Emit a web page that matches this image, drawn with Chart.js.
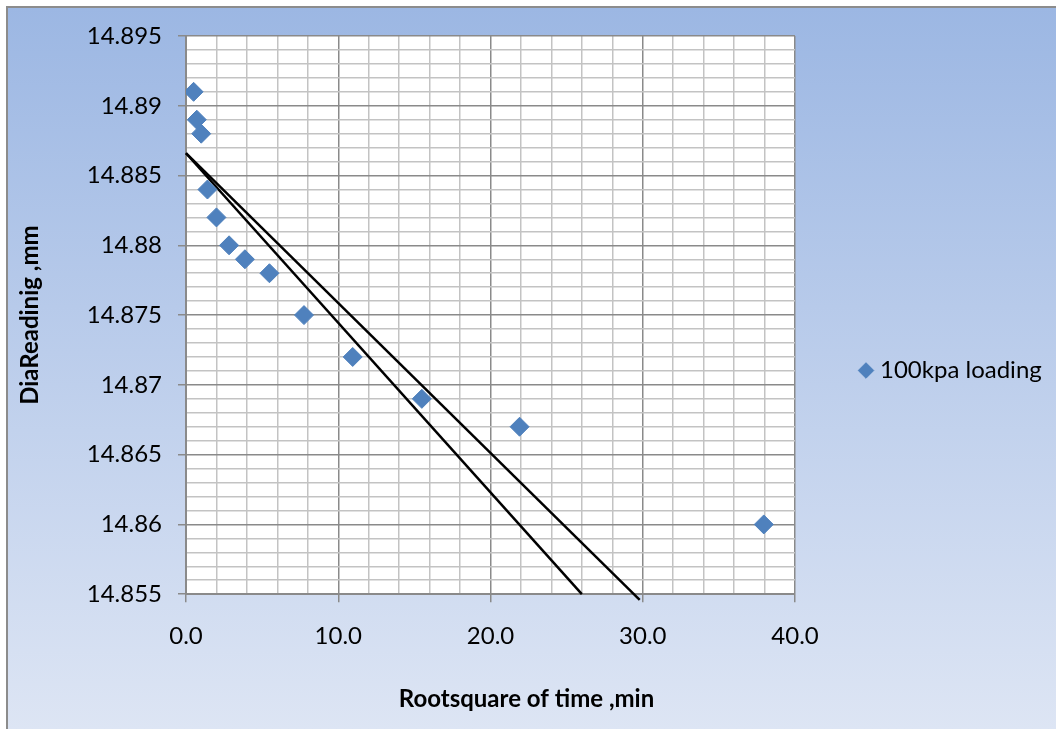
<!DOCTYPE html>
<html>
<head>
<meta charset="utf-8">
<script src="https://cdn.jsdelivr.net/npm/chart.js@4.4.0/dist/chart.umd.min.js"></script>
<style>
  html, body { margin: 0; padding: 0; background: #fff; }
  #wrap { width: 1056px; height: 729px; }
</style>
</head>
<body>
<div id="wrap"><canvas id="consolChart" width="1056" height="729"></canvas></div>
<script>
// root of time (min) vs dial reading (mm)
const rootTime = [0.5, 0.71, 1.0, 1.41, 2.0, 2.83, 3.87, 5.48, 7.75, 10.95, 15.49, 21.91, 37.95]
const dialReading = [14.891, 14.889, 14.888, 14.884, 14.882, 14.880, 14.879, 14.878, 14.875, 14.872, 14.869, 14.867, 14.860]

// the two hand drawn straight lines
const line1X = [0, 26.0]
const line1Y = [14.8866, 14.855]
const line2X = [0, 29.8]
const line2Y = [14.8866, 14.8546]

const xTickLabels = ['0.0', '10.0', '20.0', '30.0', '40.0']
const yTickLabels = ['14.855', '14.86', '14.865', '14.87', '14.875', '14.88', '14.885', '14.89', '14.895']

const FONT = 'Lato'
const majorGrid = '#8a8a8a'
const minorGrid = '#c3c3c3'

const toPoints = (xs, ys) => xs.map((x, i) => ({x, y: ys[i]}))

const isMajorX = v => Math.round(v) % 10 === 0
const isMajorY = v => Math.round(v * 1000) % 5 === 0

const bgPlugin = {
    id: 'bg',
    afterLayout(chart) {
        // nudge the legend up a bit, like the excel one
        chart.legend.top -= 12
        chart.legend.bottom -= 12
    },
    beforeDraw(chart) {
        const {ctx, width, height, chartArea} = chart
        ctx.save()
        ctx.fillStyle = '#fff'
        ctx.fillRect(0, 0, width, height)
        const g = ctx.createLinearGradient(0, 8, 0, height)
        g.addColorStop(0, '#9cb7e3')
        g.addColorStop(1, '#dde5f4')
        ctx.fillStyle = g
        ctx.fillRect(8, 8, width - 8, height - 8)
        ctx.strokeStyle = '#8c8c8c'
        ctx.lineWidth = 2
        ctx.beginPath()
        ctx.moveTo(7, height)
        ctx.lineTo(7, 7)
        ctx.lineTo(width, 7)
        ctx.stroke()
        ctx.fillStyle = '#fff'
        ctx.fillRect(chartArea.left, chartArea.top, chartArea.right - chartArea.left, chartArea.bottom - chartArea.top)
        ctx.restore()
    }
}

const data = {
    datasets: [{
        label: '100kpa loading',
        data: toPoints(rootTime, dialReading),
        pointStyle: 'rectRot',
        pointRadius: 9.5,
        pointHoverRadius: 9.5,
        backgroundColor: '#4f81bd',
        borderColor: '#4f81bd',
        borderWidth: 1,
        showLine: false
    }, {
        label: 'line1',
        data: toPoints(line1X, line1Y),
        showLine: true,
        pointRadius: 0,
        borderColor: '#000',
        borderWidth: 2.5,
        clip: false
    }, {
        label: 'line2',
        data: toPoints(line2X, line2Y),
        showLine: true,
        pointRadius: 0,
        borderColor: '#000',
        borderWidth: 2.5,
        clip: false
    }]
}

const options = {
    responsive: false,
    animation: false,
    devicePixelRatio: 1,
    layout: { padding: { left: 8, top: 36, right: 11, bottom: 0 } },
    scales: {
        x: {
            type: 'linear',
            min: 0,
            max: 40,
            afterBuildTicks: (scale) => {
                const t = []
                for (let i = 0; i <= 20; i++) t.push({value: i * 2})
                scale.ticks = t
            },
            afterFit: (scale) => { scale.height = 83 },
            border: { color: majorGrid, width: 2 },
            grid: {
                color: c => (c.tick && isMajorX(c.tick.value)) ? majorGrid : minorGrid,
                tickColor: c => (c.tick && isMajorX(c.tick.value)) ? majorGrid : 'rgba(0,0,0,0)',
                lineWidth: 1.5,
                tickLength: 8
            },
            ticks: {
                autoSkip: false,
                maxRotation: 0,
                padding: 20,
                color: '#000',
                font: { family: FONT, size: 24 },
                callback: v => isMajorX(v) ? xTickLabels[Math.round(v) / 10] : ''
            }
        },
        y: {
            type: 'linear',
            min: 14.855,
            max: 14.895,
            afterBuildTicks: (scale) => {
                const t = []
                for (let i = 0; i <= 40; i++) t.push({value: (14855 + i) / 1000})
                scale.ticks = t
            },
            afterFit: (scale) => { scale.width = 178 },
            border: { color: majorGrid, width: 2 },
            grid: {
                color: c => (c.tick && isMajorY(c.tick.value)) ? majorGrid : minorGrid,
                tickColor: c => (c.tick && isMajorY(c.tick.value)) ? majorGrid : 'rgba(0,0,0,0)',
                lineWidth: 1.5,
                tickLength: 8
            },
            ticks: {
                autoSkip: false,
                padding: 16,
                color: '#000',
                font: { family: FONT, size: 24 },
                callback: v => isMajorY(v) ? yTickLabels[Math.round((v - 14.855) * 200)] : ''
            },
            title: {
                display: true,
                text: 'DiaReadinig ,mm',
                color: '#000',
                font: { family: FONT, size: 24, weight: 'bold' },
                padding: { top: 8, bottom: 0 }
            }
        }
    },
    plugins: {
        legend: {
            position: 'right',
            maxWidth: 250,
            labels: {
                usePointStyle: true,
                boxWidth: 4,
                boxHeight: 11,
                padding: 69,
                color: '#000',
                font: { family: FONT, size: 24 },
                filter: item => item.datasetIndex === 0
            }
        },
        title: {
            display: true,
            position: 'bottom',
            text: 'Rootsquare of time ,min',
            color: '#000',
            font: { family: FONT, size: 24, weight: 'bold' },
            padding: { top: 8, bottom: 15 }
        },
        tooltip: { enabled: false }
    }
}

new Chart('consolChart', {type: 'scatter', data, options, plugins: [bgPlugin]})
</script>
</body>
</html>
